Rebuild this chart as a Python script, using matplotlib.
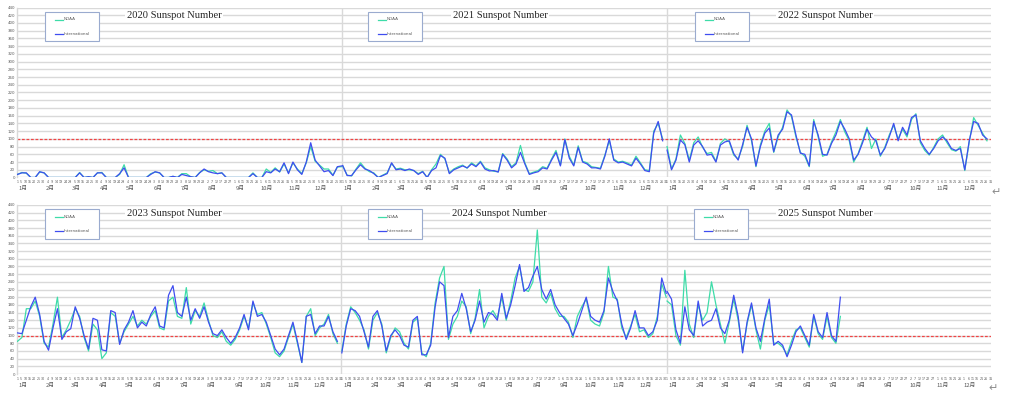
import numpy as np
import pandas as pd
import matplotlib
matplotlib.use("Agg")
import matplotlib.pyplot as plt
from matplotlib.patches import Rectangle
from matplotlib.lines import Line2D

# ---------------- data (daily sunspot numbers, sampled every 5 days) ----------------
STEP_DAYS = 5

intl_2020 = [8,12,12,0,0,15,12,0,0,0, 0,0,0,0,12,0,2,0,12,12, 0,0,0,10,25,0,0,0,0,0,
             8,15,12,0,0,3,0,8,5,2, 0,12,22,15,12,10,12,0,0,0, 0,0,0,10,0,0,15,12,22,15,
             38,10,40,20,8,40,90,45,30,15, 18,5,28,30]
noaa_2020 = [8,13,11,0,0,14,12,0,0,0, 0,0,0,0,13,0,2,0,12,13, 0,0,0,8,33,0,0,0,0,0,
             10,14,12,0,0,3,0,10,10,2, 0,13,20,16,18,10,12,0,0,0, 0,0,0,12,0,0,22,13,25,14,
             35,12,38,22,10,38,80,42,32,22, 22,6,27,28]

intl_2021 = [31,5,5,20,33,22,18,10,0,5, 10,38,20,22,18,22,18,8,15,0, 18,25,57,50,10,20,25,30,25,35,
             28,40,22,17,18,14,60,45,25,35, 65,35,8,12,15,25,22,45,65,30, 98,50,30,78,40,35,25,25,22,55,
             100,45,38,40,35,30,50,35,18,15, 115,145,95]
noaa_2021 = [30,6,4,22,38,24,15,12,0,6, 12,36,22,24,20,20,18,10,16,0, 20,35,60,48,12,22,28,32,24,38,
             30,42,25,20,16,15,62,48,28,38, 83,38,10,14,18,28,24,48,70,32, 100,55,32,82,42,38,28,26,24,58,
             95,48,40,42,38,32,55,38,20,18, 120,140,100]

intl_2022 = [71,20,45,97,85,40,84,95,80,58, 60,40,84,92,95,62,45,85,130,100, 30,80,115,128,67,110,125,170,162,110,
             63,60,30,145,110,60,58,88,110,145, 125,100,45,60,90,125,105,95,58,75, 105,140,95,130,110,155,162,95,75,60,
             75,95,105,95,75,70,75,20,95,145, 140,110,100]
noaa_2022 = [80,22,48,110,88,45,90,105,78,62, 65,42,88,100,92,58,48,80,135,95, 28,85,120,140,65,105,130,175,158,105,
             65,55,28,150,105,55,60,92,118,150, 118,95,40,62,95,130,75,100,55,78, 110,135,100,125,105,150,165,90,70,58,
             78,100,110,90,72,68,80,18,92,155, 135,115,95]

intl_2023 = [107,105,140,175,200,155,85,62,120,170, 90,110,118,175,145,100,65,145,140,63, 60,165,160,77,115,135,165,120,135,125,
             155,175,125,120,205,230,160,150,200,140, 170,145,175,135,105,100,115,95,80,95, 120,155,115,190,150,155,135,100,65,50,
             65,100,135,85,30,150,155,105,125,125, 150,110,85]
noaa_2023 = [85,95,170,170,190,150,80,70,130,200, 95,115,140,170,150,95,60,130,115,40, 55,160,150,80,110,130,150,125,140,130,
             150,165,120,115,190,200,150,145,225,130, 165,150,185,140,100,95,110,85,75,90, 115,150,120,185,155,160,130,95,55,45,
             60,95,130,80,30,150,170,100,120,130, 155,105,80]

intl_2024 = [55,125,170,165,150,110,70,150,165,125, 60,100,115,100,75,70,140,150,50,50, 75,175,240,230,95,150,165,210,170,110,
             140,190,135,160,155,140,210,145,180,230, 285,215,225,255,280,220,195,220,180,160, 145,130,100,130,165,200,150,140,135,165,
             250,215,190,130,90,120,165,120,120,100, 110,140,250,210]
noaa_2024 = [60,130,175,160,140,115,65,140,160,130, 55,95,120,110,80,65,135,145,55,45, 80,185,250,280,90,130,150,190,175,105,
             145,220,120,150,165,145,200,140,190,250, 280,220,215,240,375,200,185,210,170,150, 150,135,95,150,175,195,140,130,125,160,
             280,200,195,120,95,125,155,110,115,95, 105,150,235,200]

intl_2025 = [215,195,115,80,175,115,100,190,125,135, 140,170,120,105,140,205,150,55,135,185,
             120,85,145,195,75,85,75,45,75,110, 125,100,75,155,110,95,160,100,85,200]
noaa_2025 = [190,180,100,75,270,130,95,180,140,160, 240,180,130,80,135,195,140,60,130,180,
             115,65,140,180,80,80,70,50,85,115, 120,95,70,150,105,90,150,95,80,150]

month_labels = ["1月", "2月", "3月", "4月", "5月", "6月", "7月", "8月", "9月", "10月", "11月", "12月"]
legend_labels = ["NOAA", "International"]
reference_level = 100
y_ticks = list(range(0, 441, 20))

rows = [
    [(2020, intl_2020, noaa_2020), (2021, intl_2021, noaa_2021), (2022, intl_2022, noaa_2022)],
    [(2023, intl_2023, noaa_2023), (2024, intl_2024, noaa_2024), (2025, intl_2025, noaa_2025)],
]

# ---------------- styling ----------------
W, H = 1024, 393
C_NOAA = "#3EDCA8"
C_INTL = "#3F4DF0"
C_GRID = "#D9D9D9"
C_TXT = "#595959"
CJK = ["Noto Sans CJK JP", "DejaVu Sans"]

fig = plt.figure(figsize=(W / 100, H / 100), dpi=100)


def fx(x):
    return x / W


def fy(y):
    return 1 - y / H


row_geom = [
    dict(top=7.5, bottom=177.5, title_y=16, leg_top=12, leg_bot=41, leg_x=[45, 368, 695],
         title_x=[174, 500, 825]),
    dict(top=205, bottom=374, title_y=213, leg_top=209, leg_bot=239, leg_x=[45, 368, 694],
         title_x=[174, 499, 825]),
]
LEFT, RIGHT = 17, 991

for row, g in zip(rows, row_geom):
    ax = fig.add_axes([fx(LEFT), fy(g["bottom"]), (RIGHT - LEFT) / W, (g["bottom"] - g["top"]) / H])
    row_start = pd.Timestamp(f"{row[0][0]}-01-01")
    row_end = pd.Timestamp(f"{row[-1][0] + 1}-01-01")
    total = (row_end - row_start).days
    ax.set_xlim(0, total)
    ax.set_ylim(0, 440)
    ax.set_yticks(y_ticks)
    ax.set_yticklabels([str(v) for v in y_ticks], fontsize=2.8, color=C_TXT)
    ax.tick_params(axis="y", length=0, pad=1.5)
    ax.set_xticks([])
    for s in ["top", "right", "bottom"]:
        ax.spines[s].set_visible(False)
    ax.spines["left"].set_color(C_GRID)
    ax.spines["left"].set_linewidth(1.0)
    ax.grid(axis="y", color=C_GRID, lw=1.0)
    ax.set_axisbelow(True)

    xt = ax.get_xaxis_transform()
    for year, intl, noaa in row:
        y0 = pd.Timestamp(f"{year}-01-01")
        off = (y0 - row_start).days
        ndays = (pd.Timestamp(f"{year + 1}-01-01") - y0).days
        if off > 0:
            ax.axvline(off, color=C_GRID, lw=1.0, zorder=1)
        dates = pd.date_range(y0, periods=len(intl), freq=f"{STEP_DAYS}D")
        x = np.asarray((dates - row_start).days, dtype=float) + 0.5
        ax.plot(x, noaa, color=C_NOAA, lw=0.9, zorder=3)
        ax.plot(x, intl, color=C_INTL, lw=0.9, zorder=4)

        # day labels
        idxs = [0] + list(range(4, ndays, 5))
        for i in idxs:
            d = y0 + pd.Timedelta(days=i)
            ax.text(off + i + 0.5, -0.028, str(d.day), transform=xt, fontsize=2.3,
                    ha="center", va="center", color=C_TXT, clip_on=False)
        # month labels
        for m, lab in enumerate(month_labels, start=1):
            ms = (pd.Timestamp(year=year, month=m, day=1) - row_start).days
            ax.text(ms + 7, -0.065, lab, transform=xt, fontsize=4.2, family=CJK,
                    ha="center", va="center", color=C_TXT, clip_on=False)

    ax.axhline(reference_level, color="#F04545", lw=0.9, ls=(0, (2.2, 1.4)), zorder=2)

    # titles and legends
    for (year, _, _), tx, lx in zip(row, g["title_x"], g["leg_x"]):
        fig.text(fx(tx), fy(g["title_y"]), f"{year} Sunspot Number", ha="center", va="center",
                 family="Liberation Serif", fontsize=7.6, color="#262626",
                 bbox=dict(facecolor="white", edgecolor="none", pad=1.2))
        lt, lb = g["leg_top"], g["leg_bot"]
        fig.add_artist(Rectangle((fx(lx), fy(lb)), 54 / W, (lb - lt) / H, transform=fig.transFigure,
                                 facecolor="white", edgecolor="#9AABCF", lw=0.8, zorder=5))
        for j, (lab, col) in enumerate(zip(legend_labels, [C_NOAA, C_INTL])):
            yy = lt + 7.5 + j * 14.5
            fig.add_artist(Line2D([fx(lx + 10), fx(lx + 18)], [fy(yy), fy(yy)], transform=fig.transFigure,
                                  color=col, lw=0.9, zorder=6))
            fig.text(fx(lx + 18.5), fy(yy), lab, fontsize=3.0, color=C_TXT, ha="left", va="center", zorder=6)

fig.text(fx(996), fy(192), "↵", fontsize=8, color="#8C8C8C", ha="center", va="center")
fig.text(fx(993), fy(388), "↵", fontsize=8, color="#8C8C8C", ha="center", va="center")

fig.savefig("out.png", dpi=100, facecolor="white")
